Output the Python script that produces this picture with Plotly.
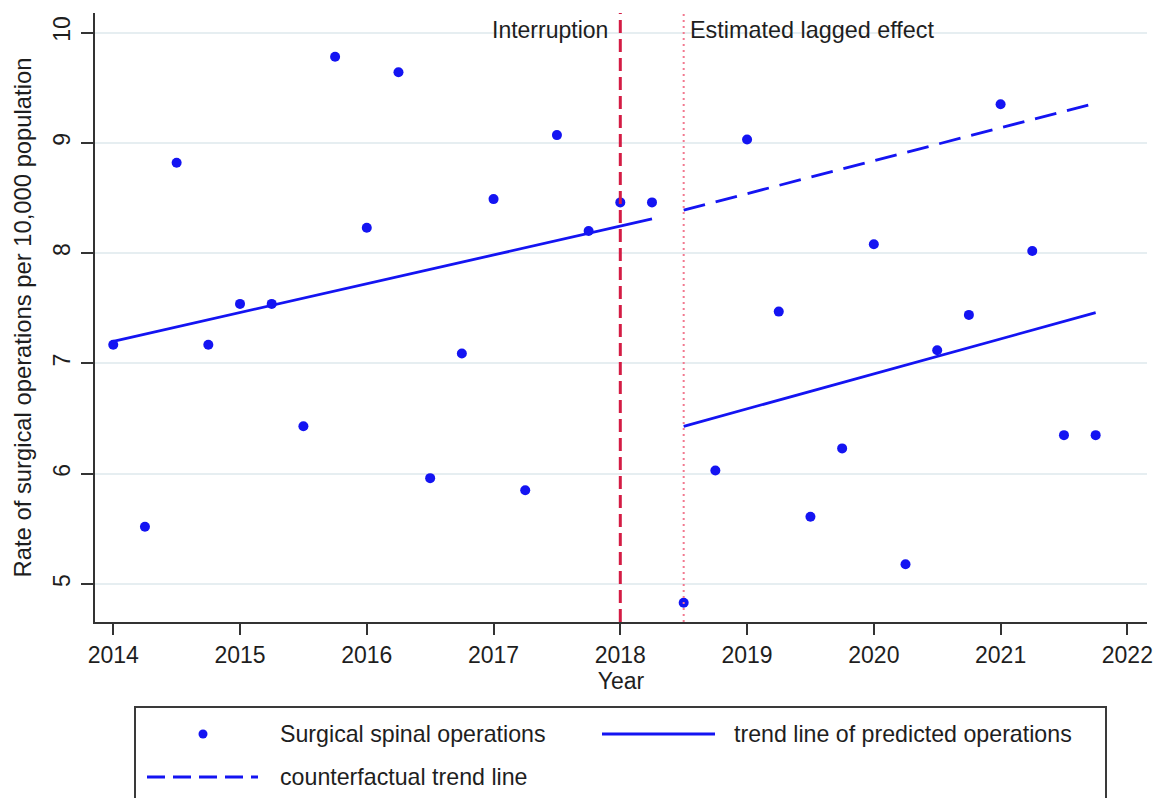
import plotly.graph_objects as go

# Quarterly rate of surgical spinal operations per 10,000 population
quarters = [
    2014.00, 2014.25, 2014.50, 2014.75,
    2015.00, 2015.25, 2015.50, 2015.75,
    2016.00, 2016.25, 2016.50, 2016.75,
    2017.00, 2017.25, 2017.50, 2017.75,
    2018.00, 2018.25, 2018.50, 2018.75,
    2019.00, 2019.25, 2019.50, 2019.75,
    2020.00, 2020.25, 2020.50, 2020.75,
    2021.00, 2021.25, 2021.50, 2021.75,
]
rates = [
    7.17, 5.52, 8.82, 7.17,
    7.54, 7.54, 6.43, 9.78,
    8.23, 9.64, 5.96, 7.09,
    8.49, 5.85, 9.07, 8.20,
    8.46, 8.46, 4.83, 6.03,
    9.03, 7.47, 5.61, 6.23,
    8.08, 5.18, 7.12, 7.44,
    9.35, 8.02, 6.35, 6.35,
]

# Fitted segments (start / end)
pre_trend_x = [2014.00, 2018.25]
pre_trend_y = [7.20, 8.31]
post_trend_x = [2018.50, 2021.75]
post_trend_y = [6.43, 7.46]
counterfactual_x = [2018.50, 2021.75]
counterfactual_y = [8.39, 9.36]

interruption_year = 2018.0
lagged_year = 2018.5

x_ticks = [2014, 2015, 2016, 2017, 2018, 2019, 2020, 2021, 2022]
y_ticks = [5, 6, 7, 8, 9, 10]

legend_labels = [
    "Surgical spinal operations",
    "trend line of predicted operations",
    "counterfactual trend line",
]

BLUE = "#1414f2"
RED = "#d41c44"
PINK = "#f27a90"
TEXT = "#1e1e1e"
FONT = "Liberation Sans, Arial, sans-serif"

# Plot-area geometry in pixels (for placing the hand-drawn legend)
W, H = 1157, 798
PL, PR, PT, PB = 95, 1147, 13, 622


def px(x):
    return (x - PL) / (PR - PL)


def py(y):
    return (PB - y) / (PB - PT)


fig = go.Figure()

fig.add_trace(go.Scatter(
    x=pre_trend_x, y=pre_trend_y, mode="lines",
    line=dict(color=BLUE, width=2.8), showlegend=False, hoverinfo="skip",
))
fig.add_trace(go.Scatter(
    x=post_trend_x, y=post_trend_y, mode="lines",
    line=dict(color=BLUE, width=2.8), showlegend=False, hoverinfo="skip",
))
fig.add_trace(go.Scatter(
    x=counterfactual_x, y=counterfactual_y, mode="lines",
    line=dict(color=BLUE, width=2.8, dash="22px,11px"),
    showlegend=False, hoverinfo="skip",
))
fig.add_trace(go.Scatter(
    x=quarters, y=rates, mode="markers",
    marker=dict(color=BLUE, size=10, line=dict(width=0)),
    name=legend_labels[0], showlegend=False,
))

# Interruption and lagged-effect markers
fig.add_shape(type="line", xref="x", yref="paper",
              x0=interruption_year, x1=interruption_year, y0=0, y1=1,
              line=dict(color=RED, width=3, dash="13px,6px"), layer="above")
fig.add_shape(type="line", xref="x", yref="paper",
              x0=lagged_year, x1=lagged_year, y0=0, y1=1,
              line=dict(color=PINK, width=2, dash="2px,4px"), layer="above")

fig.add_annotation(x=interruption_year, xref="x", xshift=-10,
                   y=py(30), yref="paper", text="Interruption",
                   showarrow=False, xanchor="right", yanchor="middle",
                   font=dict(size=23, color=TEXT, family=FONT))
fig.add_annotation(x=lagged_year, xref="x", xshift=4,
                   y=py(30), yref="paper", text="Estimated lagged effect",
                   showarrow=False, xanchor="left", yanchor="middle",
                   font=dict(size=23.4, color=TEXT, family=FONT))

# Legend box drawn below the plot
fig.add_shape(type="rect", xref="paper", yref="paper",
              x0=px(135), x1=px(1106), y0=py(830), y1=py(707),
              line=dict(color="#3a3a3a", width=2), fillcolor="white")
row1, row2 = 734, 777
fig.add_shape(type="circle", xref="paper", yref="paper",
              xsizemode="pixel", ysizemode="pixel",
              xanchor=px(203), yanchor=py(row1),
              x0=-4.5, x1=4.5, y0=-4.5, y1=4.5,
              line=dict(width=0), fillcolor=BLUE)
fig.add_shape(type="line", xref="paper", yref="paper",
              x0=px(602), x1=px(715), y0=py(row1), y1=py(row1),
              line=dict(color=BLUE, width=2.8))
fig.add_shape(type="line", xref="paper", yref="paper",
              x0=px(147), x1=px(258), y0=py(row2), y1=py(row2),
              line=dict(color=BLUE, width=2.8, dash="18px,8px"))
for label, lx, ly in [(legend_labels[0], 278, row1),
                      (legend_labels[1], 732, row1),
                      (legend_labels[2], 278, row2)]:
    fig.add_annotation(x=px(lx), y=py(ly), xref="paper", yref="paper",
                       text=label, showarrow=False,
                       xanchor="left", yanchor="middle",
                       font=dict(size=23.2, color=TEXT, family=FONT))

fig.update_layout(
    width=W, height=H,
    margin=dict(l=PL, r=W - PR, t=PT, b=H - PB, autoexpand=False),
    paper_bgcolor="white", plot_bgcolor="white",
    font=dict(family=FONT, color=TEXT, size=23),
    showlegend=False,
)

fig.update_xaxes(
    range=[2013.856, 2022.155], tickvals=x_ticks,
    ticktext=[str(t) for t in x_ticks],
    showgrid=False, zeroline=False,
    showline=True, linecolor="#333333", linewidth=2,
    ticks="outside", ticklen=11, tickwidth=2, tickcolor="#333333",
    tickfont=dict(size=23, color=TEXT),
    title=dict(text="Year", standoff=1, font=dict(size=23, color=TEXT)),
    automargin=False,
)
fig.update_yaxes(
    range=[4.656, 10.177], tickvals=y_ticks,
    ticktext=[str(t) for t in y_ticks],
    showgrid=True, gridcolor="#e6eef1", gridwidth=2,
    zeroline=False,
    showline=True, linecolor="#333333", linewidth=2,
    ticks="outside", ticklen=12, tickwidth=2, tickcolor="#333333",
    tickangle=-90, ticklabelstandoff=2,
    tickfont=dict(size=23, color=TEXT),
    title=dict(text="Rate of surgical operations per 10,000 population",
               standoff=10, font=dict(size=23.8, color=TEXT)),
    automargin=False,
)

fig.write_html("out.html")
